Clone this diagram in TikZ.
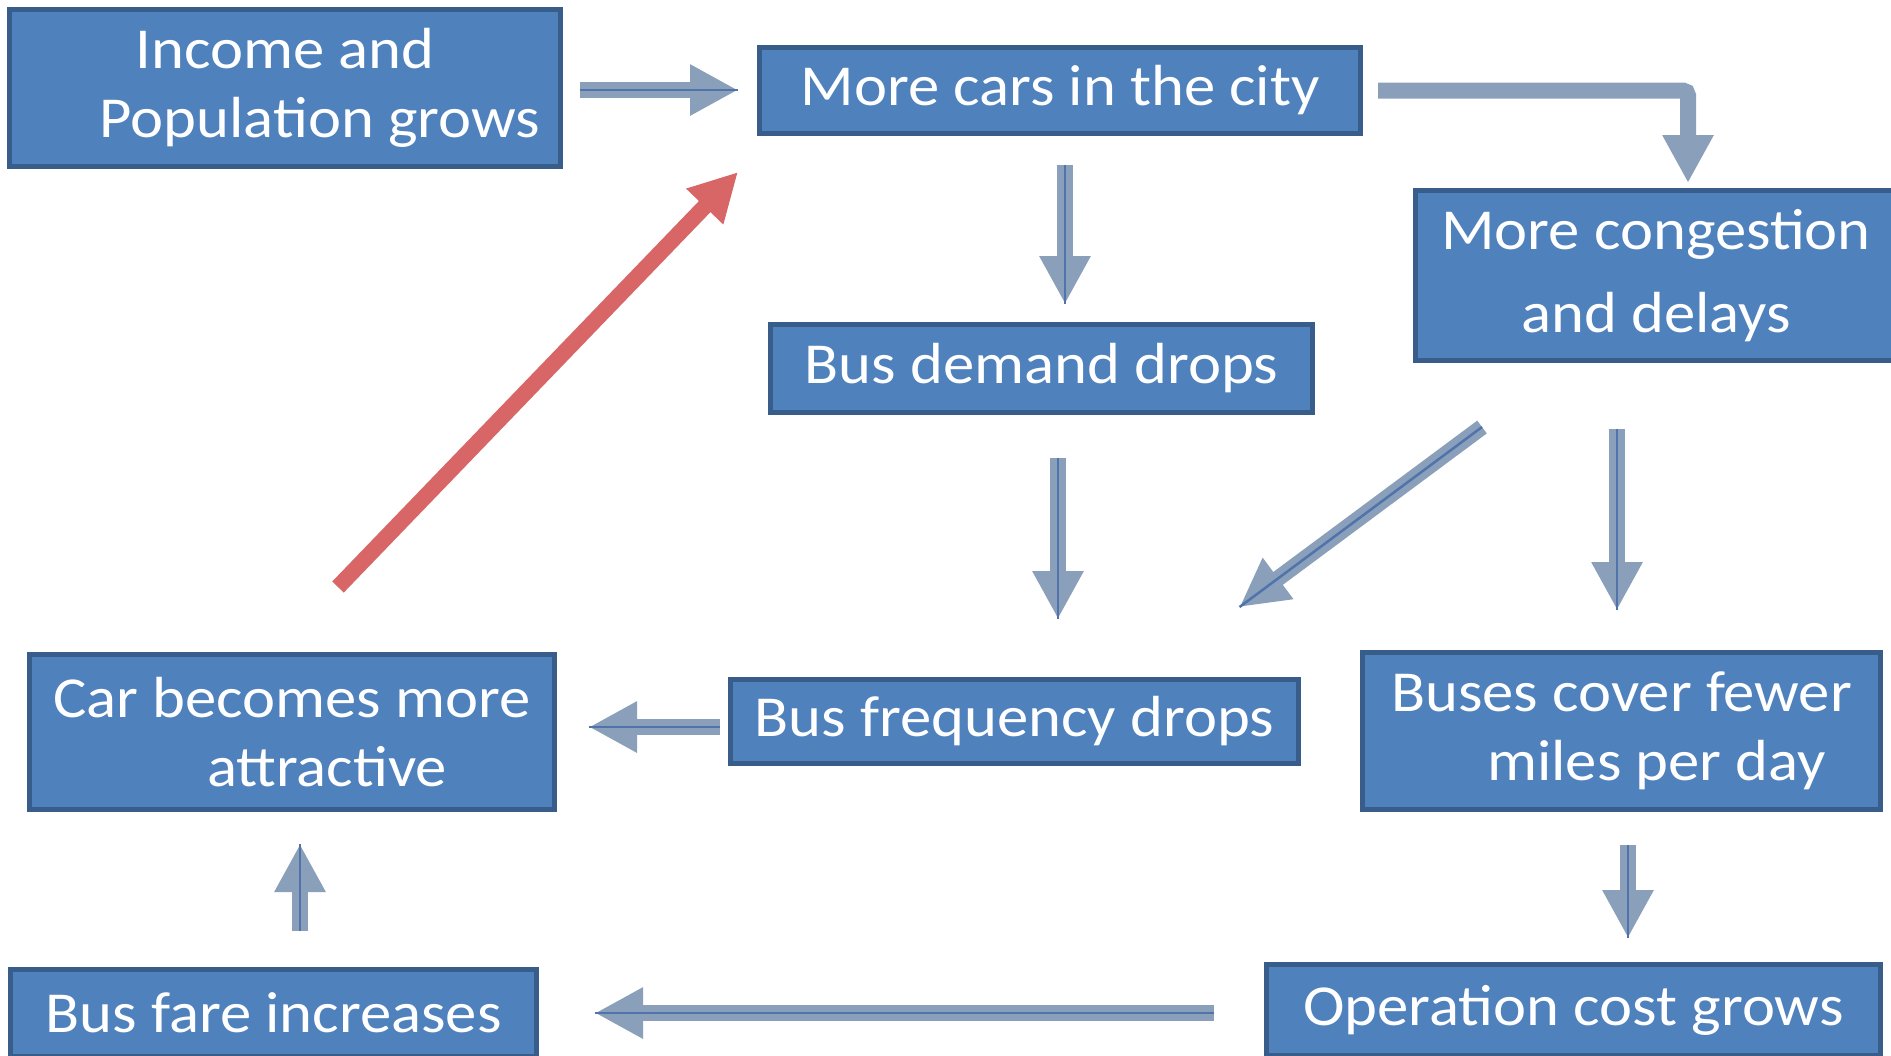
\documentclass[tikz,border=0pt]{standalone}
\usepackage{fontspec}
\setmainfont[FakeStretch=1.08]{Carlito}
\usetikzlibrary{arrows.meta}
\definecolor{boxfill}{RGB}{79,129,189}
\definecolor{boxline}{RGB}{56,93,138}
\definecolor{flowcol}{RGB}{138,159,186}
\definecolor{midline}{RGB}{79,115,170}
\definecolor{loopcol}{RGB}{216,102,102}

\begin{document}
\begin{tikzpicture}[
    box/.style={draw=boxline, fill=boxfill, line width=0.05cm, text=white,
        align=center, inner sep=0pt, font=\fontsize{16.5}{19.5}\selectfont},
    flow/.style={draw=flowcol, line width=0.16cm,
        -{Triangle[length=0.48cm, width=0.48cm]},
        postaction={draw=midline, line width=0.7pt, -}},
    bent/.style={draw=flowcol, line width=0.16cm, rounded corners=0.05cm,
        -{Triangle[length=0.48cm, width=0.48cm]}},
    loop/.style={draw=loopcol, line width=0.16cm,
        -{Triangle[length=0.48cm, width=0.48cm]}}]
    \useasboundingbox (0,0) rectangle (18.91,-10.55);

    \node[box, minimum width=5.51cm, minimum height=1.57cm] (income) at (2.85,-0.88) {Income and\\\hspace*{0.7cm}Population grows};
    \node[box, minimum width=6.01cm, minimum height=0.86cm] (cars) at (10.60,-0.905) {More cars in the city};
    \node[box, minimum width=5.42cm, minimum height=0.88cm] (demand) at (10.415,-3.685) {Bus demand drops};
    \node[box, minimum width=4.82cm, minimum height=1.70cm, font=\fontsize{16.5}{23.6}\selectfont] (congestion) at (16.56,-2.755) {More congestion\\and delays};
    \node[box, minimum width=5.25cm, minimum height=1.55cm] (attractive) at (2.92,-7.32) {Car becomes more\\\hspace*{0.7cm}attractive};
    \node[box, minimum width=5.68cm, minimum height=0.84cm] (frequency) at (10.145,-7.215) {Bus frequency drops};
    \node[box, minimum width=5.18cm, minimum height=1.57cm] (miles) at (16.215,-7.31) {Buses cover fewer\\\hspace*{0.7cm}miles per day};
    \node[box, minimum width=5.26cm, minimum height=0.87cm] (fare) at (2.735,-10.13) {Bus fare increases};
    \node[box, minimum width=6.14cm, minimum height=0.91cm] (operation) at (15.735,-10.10) {Operation cost grows};

    \draw[flow, shorten <=0.17cm, shorten >=0.19cm] ([yshift=-0.02cm]income.east) -- ([yshift=-0.02cm]income.east -| cars.west);
    \draw[bent, shorten <=0.15cm, shorten >=0.05cm] (cars.east) -| ([xshift=0.32cm]congestion.north);
    \draw[flow, shorten <=0.29cm, shorten >=0.18cm] ([xshift=0.05cm]cars.south) -- ([xshift=0.05cm]cars.south |- demand.north);
    \draw[flow, shorten <=0.43cm, shorten >=0.58cm] ([xshift=0.165cm]demand.south) -- ([xshift=0.165cm]demand.south |- frequency.north);
    \draw[flow] ([shift={(-1.74,-0.64)}]congestion.south) -- ([shift={(-0.615,0.70)}]frequency.north east);
    \draw[flow, shorten <=0.66cm, shorten >=0.40cm] ([xshift=-0.39cm]congestion.south) -- ([xshift=-0.39cm]congestion.south |- miles.north);
    \draw[flow, shorten <=0.08cm, shorten >=0.32cm] ([yshift=-0.055cm]frequency.west) -- ([yshift=-0.055cm]frequency.west -| attractive.east);
    \draw[flow, shorten <=0.33cm, shorten >=0.24cm] ([xshift=0.065cm]miles.south) -- ([xshift=0.065cm]miles.south |- operation.north);
    \draw[flow, shorten <=0.50cm, shorten >=0.56cm] ([yshift=-0.03cm]operation.west) -- ([yshift=-0.03cm]operation.west -| fare.east);
    \draw[flow, shorten <=0.36cm, shorten >=0.32cm] ([xshift=0.265cm]fare.north) -- ([xshift=0.265cm]fare.north |- attractive.south);
    \draw[loop] ([shift={(0.46,0.65)}]attractive.north) -- ([shift={(-0.19,-0.36)}]cars.south west);
\end{tikzpicture}
\end{document}
